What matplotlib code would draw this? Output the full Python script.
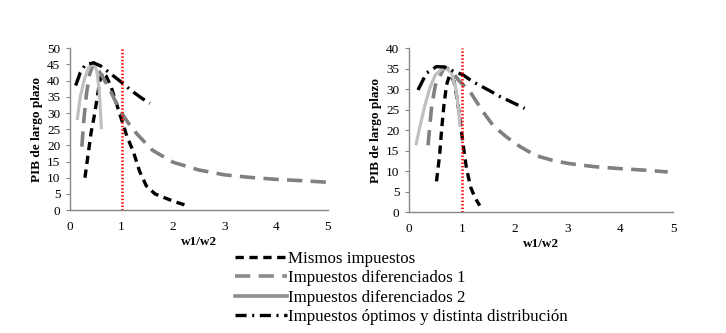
import numpy as np
import matplotlib
matplotlib.use("Agg")
import matplotlib.pyplot as plt
from matplotlib.lines import Line2D

plt.rcParams['font.family'] = ['Liberation Serif', 'DejaVu Serif']
plt.rcParams['lines.scale_dashes'] = False

# ---- data (left panel) ----
mis_x_l = [0.29, 0.35, 0.41, 0.47, 0.53, 0.58, 0.63, 0.70, 0.80, 0.90, 1.00, 1.10, 1.23, 1.35, 1.48, 1.65, 1.87, 2.05, 2.25]
mis_y_l = [10.0, 17.0, 24.0, 29.0, 35.0, 40.0, 42.5, 41.5, 38.0, 33.0, 28.0, 23.0, 18.0, 12.0, 7.5, 5.0, 3.6, 2.5, 1.5]

dif1_x_l = [0.23, 0.27, 0.32, 0.38, 0.46, 0.60, 0.75, 0.87, 1.00, 1.15, 1.30, 1.60, 2.00, 2.50, 3.00, 3.50, 4.00, 4.50, 5.00]
dif1_y_l = [19.6, 28.0, 36.0, 42.0, 45.5, 42.0, 38.0, 34.0, 30.0, 26.5, 23.5, 18.5, 14.8, 12.4, 10.9, 10.1, 9.5, 9.1, 8.6]

dif2_x_l = [0.14, 0.20, 0.28, 0.36, 0.46, 0.52, 0.56, 0.59, 0.61]
dif2_y_l = [27.8, 35.0, 40.5, 44.0, 45.5, 43.0, 38.0, 31.0, 25.0]

opt_x_l = [0.11, 0.20, 0.30, 0.46, 0.60, 0.80, 1.00, 1.20, 1.40, 1.55]
opt_y_l = [38.5, 42.5, 45.0, 45.5, 44.5, 42.0, 39.5, 36.8, 34.5, 33.0]

# ---- right panel ----
mis_x_r = [0.52, 0.58, 0.62, 0.66, 0.71, 0.77, 0.85, 0.92, 0.97, 1.03, 1.09, 1.17, 1.25, 1.34]
mis_y_r = [7.5, 14.0, 20.5, 26.0, 31.0, 33.5, 32.0, 27.0, 22.0, 16.0, 10.5, 6.0, 3.5, 1.6]

dif1_x_r = [0.36, 0.39, 0.43, 0.50, 0.67, 0.80, 0.95, 1.15, 1.40, 1.60, 1.85, 2.10, 2.40, 2.70, 3.00, 3.50, 4.00, 4.50, 4.90]
dif1_y_r = [16.3, 20.5, 26.0, 31.0, 35.4, 34.5, 32.0, 29.5, 24.5, 21.0, 18.3, 16.0, 13.8, 12.7, 11.9, 11.1, 10.6, 10.2, 9.8]

dif2_x_r = [0.13, 0.20, 0.30, 0.40, 0.50, 0.67, 0.80, 0.88, 0.93, 0.97]
dif2_y_r = [16.3, 20.5, 26.0, 30.5, 33.5, 35.4, 34.0, 30.5, 26.0, 20.8]

opt_x_r = [0.17, 0.33, 0.52, 0.67, 0.85, 1.02, 1.21, 1.50, 1.72, 2.00, 2.19]
opt_y_r = [29.8, 33.9, 35.5, 35.4, 34.3, 33.5, 31.8, 29.8, 28.2, 26.5, 25.3]

labels = ["Mismos impuestos", "Impuestos diferenciados 1",
          "Impuestos diferenciados 2", "Impuestos óptimos y distinta distribución"]

panels = [
    dict(pos=[0.0964, 0.369, 0.355, 0.486], ymax=50,
         data=[(mis_x_l, mis_y_l), (dif1_x_l, dif1_y_l), (dif2_x_l, dif2_y_l), (opt_x_l, opt_y_l)]),
    dict(pos=[0.5634, 0.363, 0.3636, 0.4925], ymax=40,
         data=[(mis_x_r, mis_y_r), (dif1_x_r, dif1_y_r), (dif2_x_r, dif2_y_r), (opt_x_r, opt_y_r)]),
]

# styles: black dashed, gray long dash, light gray solid, dash-dot
styles = [
    dict(color='black', lw=2.4, dashes=(6, 4)),
    dict(color='#808080', lw=2.6, dashes=(11, 6)),
    dict(color='#c0c0c0', lw=2.3),
    dict(color='black', lw=2.4, dashes=(10, 4, 1.5, 4)),
]

fig = plt.figure(figsize=(7.26, 3.33), dpi=100)

for p in panels:
    ax = fig.add_axes(p['pos'])
    for (xs, ys), st in zip(p['data'], styles):
        ax.plot(xs, ys, solid_capstyle='butt', dash_capstyle='butt', **st)
    ax.axvline(1, color='#ff0000', ls=(0, (1, 1.5)), lw=1.9)
    ax.set_xlim(0, 5)
    ax.set_ylim(0, p['ymax'])
    ax.set_xticks(range(0, 6))
    ax.set_yticks(np.arange(0, p['ymax'] + 1, 5))
    for s in ['top', 'right']:
        ax.spines[s].set_visible(False)
    for s in ['left', 'bottom']:
        ax.spines[s].set_color('#868686')
        ax.spines[s].set_linewidth(1.0)
    ax.tick_params(axis='y', length=3, color='#868686', labelsize=9.5, pad=4)
    ax.tick_params(axis='x', length=0, labelsize=9.5, pad=8)
    ax.set_xlabel('w1/w2', fontweight='bold', fontsize=9.5, labelpad=2)
    ax.set_ylabel('PIB de largo plazo', fontweight='bold', fontsize=9.5, labelpad=3)

handles = [
    Line2D([], [], color='black', lw=2.4, dashes=(6, 4)),
    Line2D([], [], color='#8c8c8c', lw=2.6, dashes=(11, 6)),
    Line2D([], [], color='#8c8c8c', lw=2.6),
    Line2D([], [], color='black', lw=2.4, dashes=(8, 4, 1.5, 4)),
]
fig.legend(handles, labels, loc='upper left', bbox_to_anchor=(235 / 726, 1 - 251 / 333),
           frameon=False, fontsize=12.2, handlelength=3.05, handletextpad=0.05,
           labelspacing=0.2, borderpad=0, borderaxespad=0)

fig.savefig('out.png', dpi=100)
